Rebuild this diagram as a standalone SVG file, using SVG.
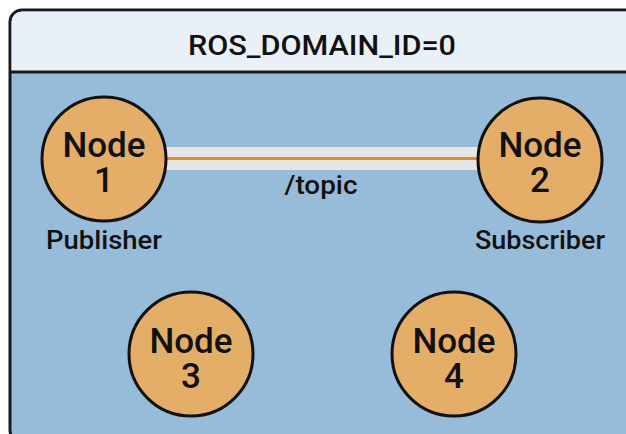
<svg xmlns="http://www.w3.org/2000/svg" width="626" height="434" viewBox="0 0 626 434">
  <style>
    .frame { fill: #96bcd9; stroke: #1a1a1a; stroke-width: 3; }
    .header { fill: #e9f0f7; }
    .node circle { fill: #e4ae68; stroke: #111; stroke-width: 3; }
    .label { font-family: Roboto, "Liberation Sans", sans-serif; font-weight: 500; fill: #111; text-anchor: middle; }
    .node-text { font-size: 35px; }
    .role { font-size: 26px; }
  </style>

  <!-- domain container -->
  <g id="domain">
    <rect class="frame" x="10" y="10" width="640" height="432" rx="12"/>
    <path class="header" d="M11.5,72 V22 A10.5,10.5 0 0 1 22,11.5 H650 V72 Z"/>
    <line x1="10" y1="72" x2="650" y2="72" stroke="#1a1a1a" stroke-width="3"/>
    <text class="label" x="322" y="55" font-size="28" textLength="268" lengthAdjust="spacingAndGlyphs">ROS_DOMAIN_ID=0</text>
  </g>

  <!-- topic connection -->
  <g id="connectors">
    <rect x="160" y="147" width="324" height="23" fill="#e6e6e6"/>
    <line x1="160" y1="158.5" x2="484" y2="158.5" stroke="#e08a2e" stroke-width="3"/>
    <text class="label role" x="321" y="194" textLength="73" lengthAdjust="spacingAndGlyphs">/topic</text>
  </g>

  <g id="node1" class="node">
    <circle cx="104" cy="159" r="62"/>
    <text class="label node-text" x="104" y="157">Node</text>
    <text class="label node-text" x="104" y="192">1</text>
    <text class="label role" x="104" y="249" textLength="116" lengthAdjust="spacingAndGlyphs">Publisher</text>
  </g>

  <g id="node2" class="node">
    <circle cx="540" cy="160" r="62"/>
    <text class="label node-text" x="540" y="157">Node</text>
    <text class="label node-text" x="540" y="192">2</text>
    <text class="label role" x="540" y="249" textLength="130" lengthAdjust="spacingAndGlyphs">Subscriber</text>
  </g>

  <g id="node3" class="node">
    <circle cx="191" cy="354" r="62"/>
    <text class="label node-text" x="191" y="353">Node</text>
    <text class="label node-text" x="191" y="388">3</text>
  </g>

  <g id="node4" class="node">
    <circle cx="454" cy="354" r="62"/>
    <text class="label node-text" x="454" y="353">Node</text>
    <text class="label node-text" x="454" y="388">4</text>
  </g>
</svg>
